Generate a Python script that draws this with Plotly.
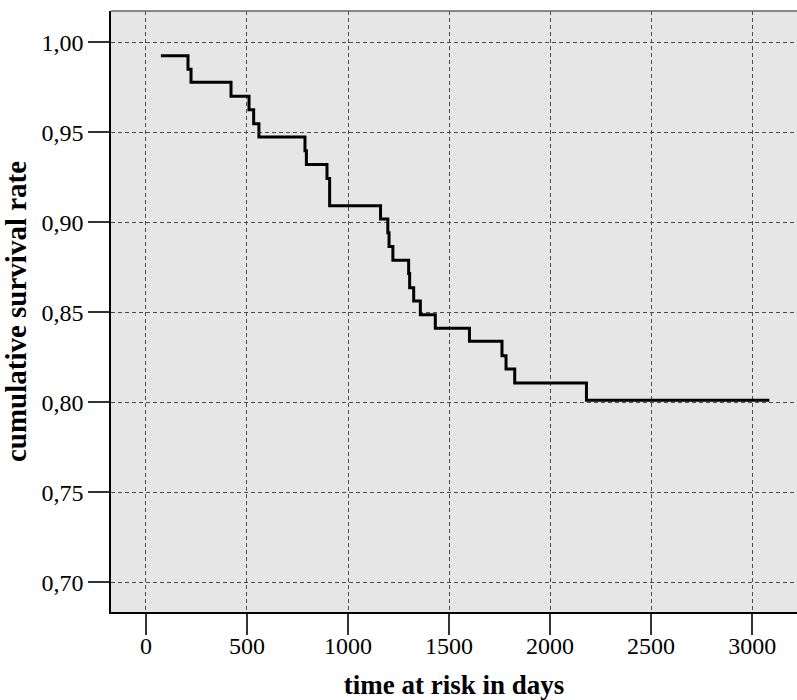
import plotly.graph_objects as go

# Kaplan-Meier estimate: event times (days) and survival after each step
times = [74, 208, 223, 421, 510, 533, 559, 787, 794, 896, 909, 1161, 1197, 1203,
         1222, 1300, 1305, 1325, 1358, 1432, 1601, 1762, 1782, 1825, 2180, 3085]
survival = [0.9926, 0.9850, 0.9778, 0.9700, 0.9626, 0.9548, 0.9474, 0.9398, 0.9321,
            0.9243, 0.9092, 0.9018, 0.8942, 0.8865, 0.8789, 0.8715, 0.8637, 0.8563,
            0.8487, 0.8411, 0.8339, 0.8259, 0.8185, 0.8107, 0.8011, 0.8011]

x_ticks = [0, 500, 1000, 1500, 2000, 2500, 3000]
y_ticks = [0.70, 0.75, 0.80, 0.85, 0.90, 0.95, 1.00]

SERIF = "Liberation Serif, Times New Roman, serif"

fig = go.Figure()
fig.add_trace(go.Scatter(
    x=times, y=survival, mode="lines",
    line=dict(color="#000000", width=3, shape="hv"),
    hoverinfo="x+y", showlegend=False,
))

grid = dict(showgrid=True, gridcolor="#4d4d4d", gridwidth=1, griddash="4px,3px",
            zeroline=False, showline=True, linecolor="#000000", linewidth=1.5,
            ticks="outside", ticklen=21, tickwidth=1.5, tickcolor="#333333",
            tickfont=dict(family=SERIF, size=24, color="#000000"))

fig.update_xaxes(range=[-173, 3222], tickvals=x_ticks, ticklabelstandoff=-10, **grid,
                 title=dict(text="<b>time at risk in days</b>", standoff=22,
                            font=dict(family=SERIF, size=27, color="#000000")))
fig.update_yaxes(range=[0.6835, 1.0174], tickvals=y_ticks, tickformat=".2f", **grid,
                 title=dict(text="<b>cumulative survival rate</b>", standoff=12,
                            font=dict(family=SERIF, size=29, color="#000000")))

# thin gray frame along the top of the plotting area
fig.add_shape(type="line", xref="paper", yref="paper", x0=0, x1=1, y0=1, y1=1,
              line=dict(color="#666666", width=1.5))

fig.update_layout(
    width=797, height=700,
    margin=dict(l=111, r=0, t=11, b=88, autoexpand=False),
    plot_bgcolor="#e6e6e6", paper_bgcolor="#ffffff",
    separators=", ",
)

fig.write_html("out.html")
